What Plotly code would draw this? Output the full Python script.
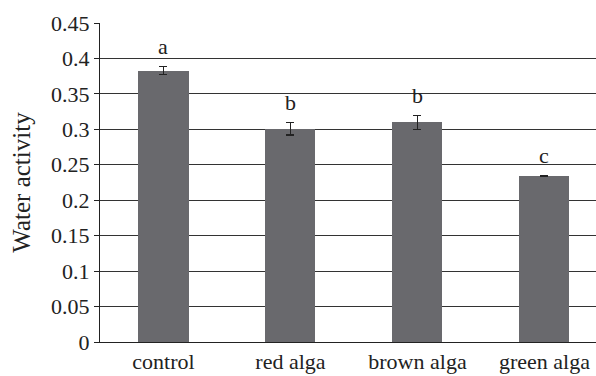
import plotly.graph_objects as go

categories = ["control", "red alga", "brown alga", "green alga"]
values = [0.383, 0.301, 0.310, 0.234]
errors = [0.006, 0.009, 0.010, 0.001]
letters = ["a", "b", "b", "c"]
y_ticks = [0, 0.05, 0.1, 0.15, 0.2, 0.25, 0.3, 0.35, 0.4, 0.45]
y_tick_labels = ["0", "0.05", "0.1", "0.15", "0.2", "0.25", "0.3", "0.35", "0.4", "0.45"]

font_family = "Liberation Serif, Times New Roman, serif"
fs = 22

fig = go.Figure()
fig.add_trace(go.Bar(
    x=list(range(len(categories))),
    y=values,
    width=0.394,
    marker=dict(color="#69696d", line=dict(width=0)),
    error_y=dict(type="data", array=errors, visible=True, color="#222222",
                 thickness=1.2, width=4),
    hoverinfo="skip",
))

for i, (v, e, l) in enumerate(zip(values, errors, letters)):
    fig.add_annotation(x=i, y=v + e, text=l, showarrow=False, yanchor="bottom",
                       yshift=5, font=dict(family=font_family, size=fs, color="#222222"))

fig.update_layout(
    width=596, height=376,
    margin=dict(l=100, r=0, t=22.5, b=33.5, autoexpand=False),
    paper_bgcolor="white", plot_bgcolor="white",
    showlegend=False,
    font=dict(family=font_family, size=fs, color="#222222"),
    bargap=0,
)
fig.update_xaxes(
    range=[-0.5, 3.406],
    tickmode="array", tickvals=list(range(len(categories))), ticktext=categories,
    showline=True, linecolor="#222222", linewidth=1,
    showgrid=False, ticks="", zeroline=False, automargin=False,
    tickfont=dict(family=font_family, size=fs),
)
fig.update_yaxes(
    range=[0, 0.45],
    tickmode="array", tickvals=y_ticks, ticktext=y_tick_labels,
    showline=True, linecolor="#222222", linewidth=1,
    showgrid=True, gridcolor="#333333", gridwidth=1,
    ticks="outside", ticklen=5, tickcolor="#222222",
    zeroline=False, automargin=False,
    tickfont=dict(family=font_family, size=fs),
    title=dict(text="Water activity", font=dict(family=font_family, size=25), standoff=13),
)

fig.write_html(
    "out.html",
    config={"displayModeBar": False},
    post_script="document.body.style.margin='0';document.body.style.overflow='hidden';",
)
